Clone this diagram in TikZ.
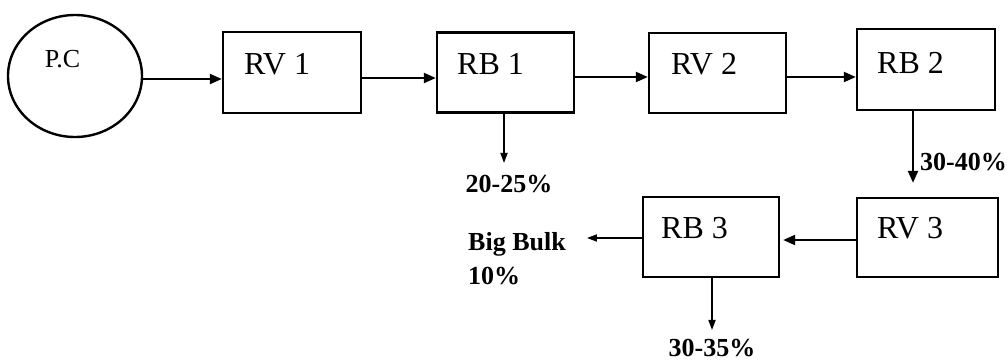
\documentclass[tikz,border=0pt]{standalone}
\usepackage{fontspec}
\setmainfont{Liberation Serif}
\usetikzlibrary{shapes.geometric,arrows.meta}
\begin{document}
\begin{tikzpicture}[x=1pt,y=-1pt,
  stagebox/.style={draw,line width=2.4pt,inner sep=0pt,minimum width=137pt,minimum height=80pt},
  stagetext/.style={anchor=west,inner sep=0pt,font=\fontsize{32}{36}\selectfont},
  outtext/.style={inner sep=0pt,font=\bfseries\fontsize{26}{34}\selectfont},
  flow/.style={line width=2.2pt,-{Triangle[length=12pt,width=10pt]}},
  thinflow/.style={line width=1.7pt,-{Triangle[length=10pt,width=7pt]}}]
\useasboundingbox (0,0) rectangle (1008,362);

% source
\node[ellipse,draw,line width=2.4pt,minimum width=134pt,minimum height=122pt,inner sep=0pt] (pc) at (75,76) {};
\node[inner sep=0pt,font=\fontsize{26}{30}\selectfont] (pct) at (62.5,59.5) {P.C};

% stages
\node[stagebox,minimum width=138pt,minimum height=81pt] (rv1) at (292,72.5) {};
\node[stagebox] (rb1) at (505.5,72.5) {};
\node[stagebox] (rv2) at (717.5,73) {};
\node[stagebox,minimum width=138pt,minimum height=81pt] (rb2) at (926,69.5) {};
\node[stagebox,minimum width=141pt,minimum height=79pt] (rv3) at (927.5,237.5) {};
\node[stagebox,minimum width=136pt] (rb3) at (711,237) {};

\node[stagetext] (rv1t) at (244,64.5) {RV 1};
\node[stagetext] (rb1t) at (457,64) {RB 1};
\node[stagetext] (rv2t) at (671,64) {RV 2};
\node[stagetext] (rb2t) at (877,63) {RB 2};
\node[stagetext] (rv3t) at (877,228.5) {RV 3};
\node[stagetext] (rb3t) at (661,228.5) {RB 3};

% outputs
\node[outtext] (o1) at (509,184) {20-25\%};
\node[outtext,anchor=west] (o2) at (920,162) {30-40\%};
\node[outtext,anchor=north west,align=left] (o3) at (468,232) {Big Bulk\\10\%};
\node[outtext] (o4) at (712,348) {30-35\%};

% main line
\draw[flow] ([yshift=-3pt]pc.east) coordinate (s1) -- (s1 -| rv1.west);
\draw[flow] ([yshift=-5.5pt]rv1.east) coordinate (s2) -- (s2 -| rb1.west);
\draw[flow] ([yshift=-4.5pt]rb1.east) coordinate (s3) -- (s3 -| rv2.west);
\draw[flow] ([yshift=-4pt]rv2.east) coordinate (s4) -- (s4 -| rb2.west);
\draw[flow,shorten >=14pt] ([xshift=-13pt]rb2.south) coordinate (s5) -- (s5 |- rv3.north);
\draw[flow,shorten >=3pt] ([yshift=-2.5pt]rv3.west) coordinate (s6) -- (s6 -| rb3.east);

% side outputs
\draw[thinflow,shorten >=12pt] ([xshift=-1.5pt]rb1.south) coordinate (s7) -- (s7 |- o1.north);
\draw[thinflow,shorten >=21pt] ([yshift=-1pt]rb3.west) coordinate (s8) -- (s8 -| o3.east);
\draw[thinflow,shorten >=9pt] ([xshift=1pt]rb3.south) coordinate (s9) -- (s9 |- o4.north);
\end{tikzpicture}
\end{document}
